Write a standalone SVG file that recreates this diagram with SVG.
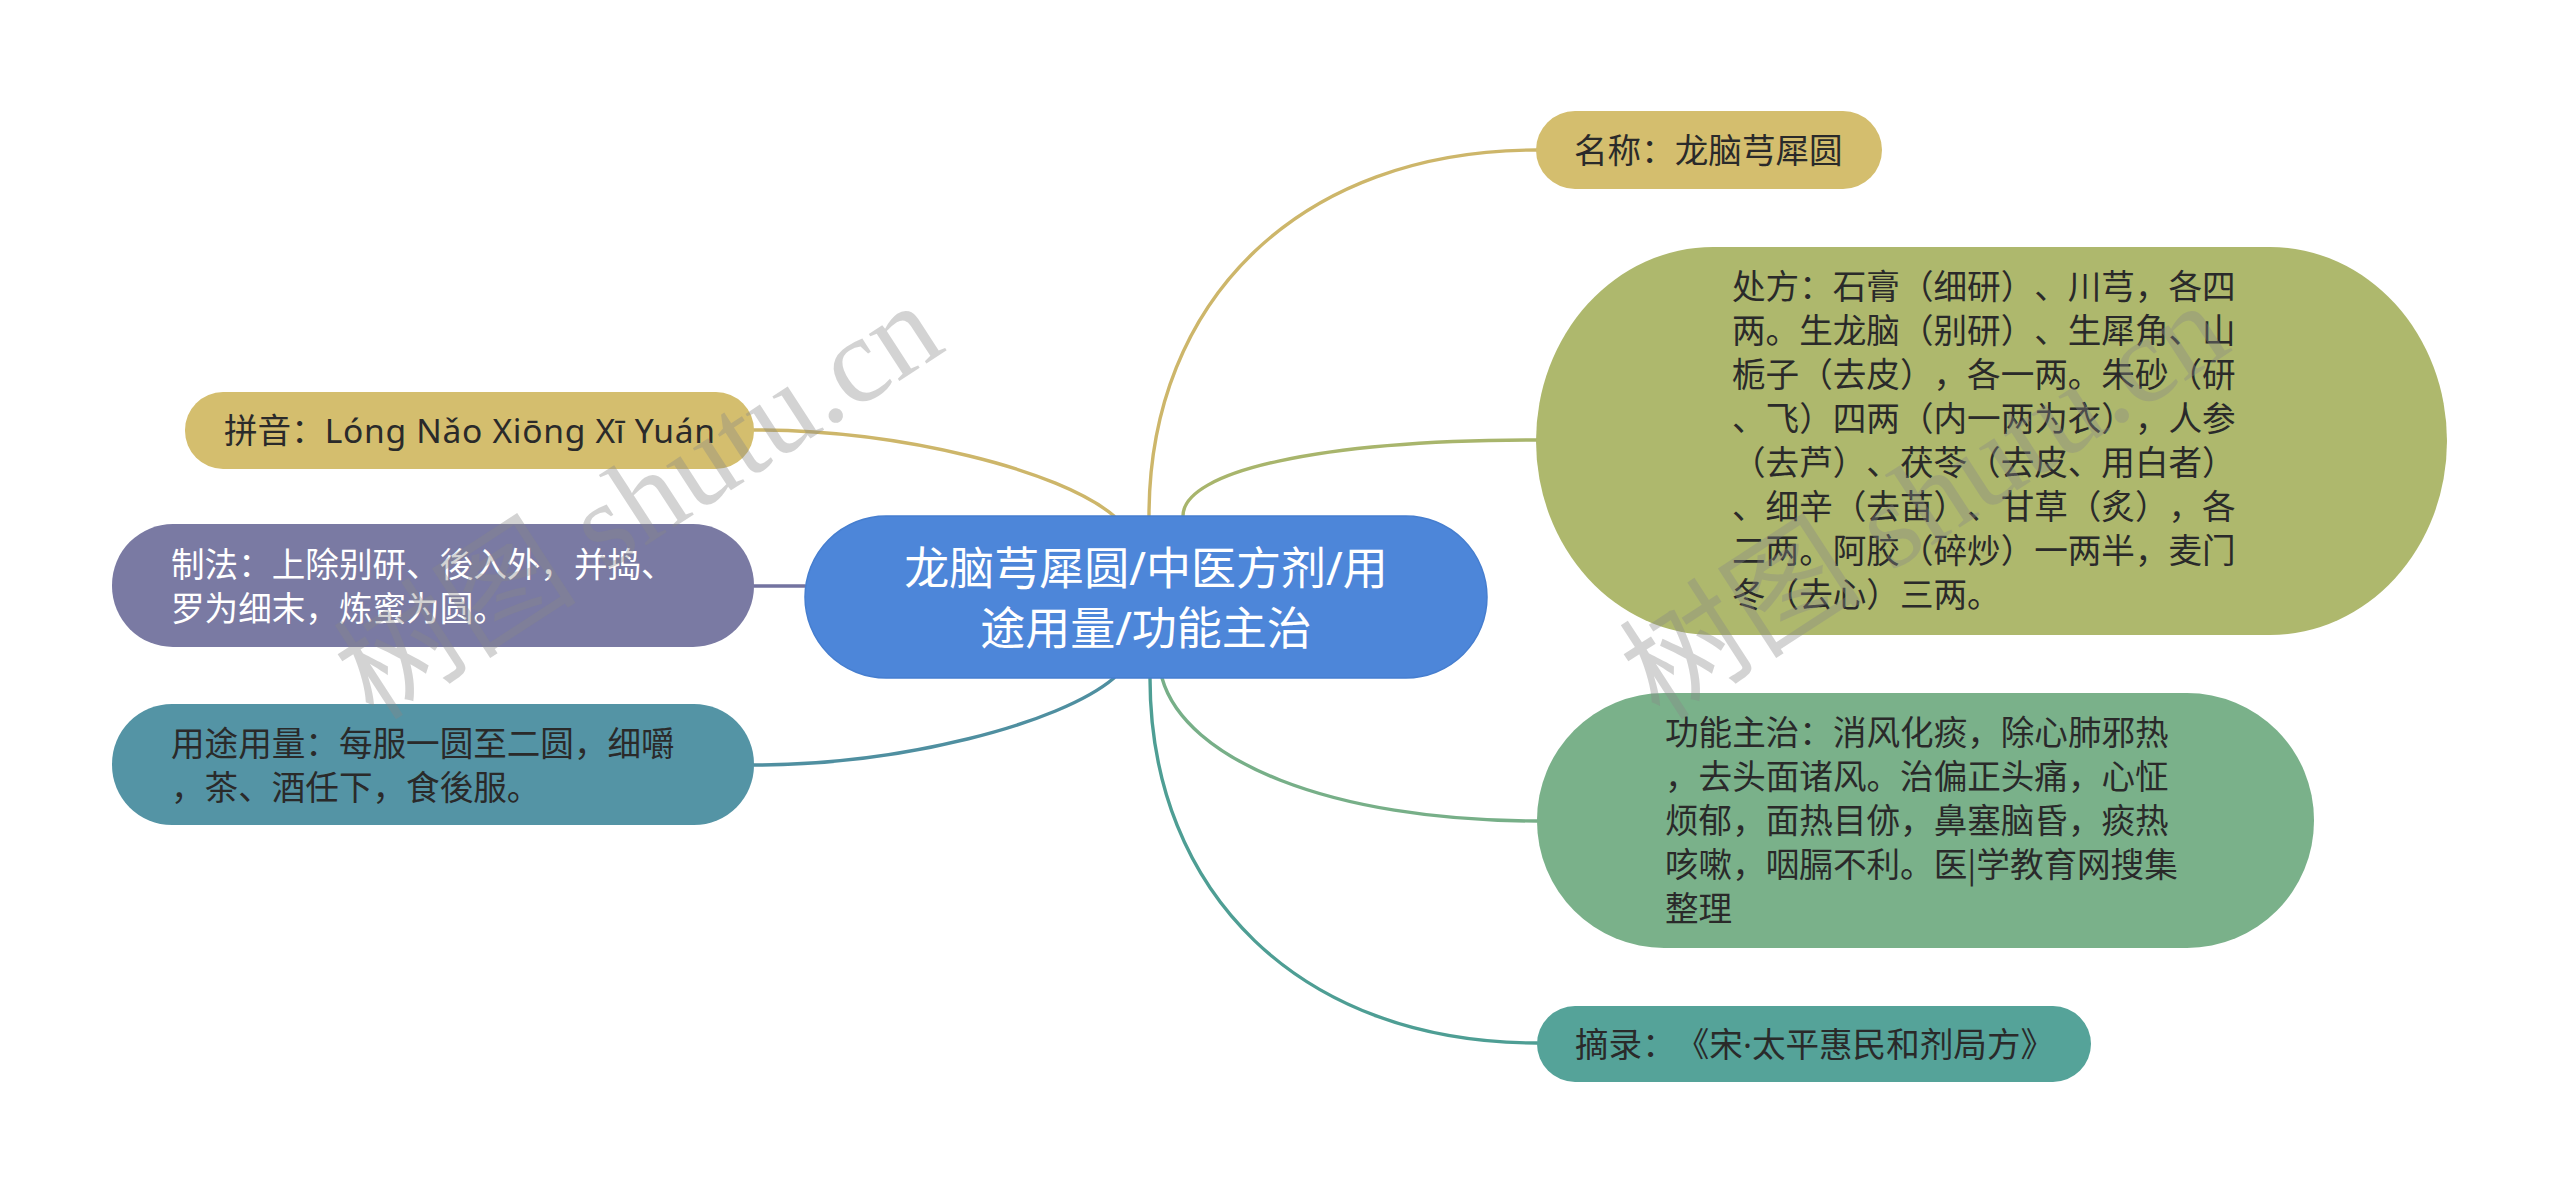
<svg xmlns="http://www.w3.org/2000/svg" width="2560" height="1195" viewBox="0 0 2560 1195">
<style>
text{text-spacing-trim:space-all}
.t{font-family:"Noto Sans","Noto Sans CJK SC",sans-serif;font-size:33.6px;fill:#2a2a2a}
.w{fill:#ffffff}
.c{font-family:"Noto Sans","Noto Sans CJK SC",sans-serif;font-size:45px;fill:#ffffff;text-anchor:middle}
.cj{font-family:"Noto Sans CJK SC",sans-serif}
.ln{fill:none;stroke-width:3.4;stroke-linecap:round}
.wm{font-family:"Liberation Serif","Noto Sans CJK SC",serif;font-size:122px;fill:#888888;opacity:0.36}
</style>
<rect width="2560" height="1195" fill="#ffffff"/>
<g id="connectors">
<path class="ln" stroke="#CDB66A" d="M1149,516 C1149,300 1300,150 1537,150"/>
<path class="ln" stroke="#A8B56C" d="M1183,516 C1183,471 1320,440 1537,440"/>
<path class="ln" stroke="#CDB66A" d="M754,430 C900,430 1060,470 1114,516"/>
<path class="ln" stroke="#7373A0" d="M754,586 L805,586"/>
<path class="ln" stroke="#4F8FA0" d="M754,765 C900,765 1060,724 1114,678"/>
<path class="ln" stroke="#77AF88" d="M1162,678 C1185,760 1330,821 1537,821"/>
<path class="ln" stroke="#4E9E94" d="M1150,678 C1150,893 1301,1043 1537,1043"/>
</g>
<g id="center">
<rect x="805" y="516" width="682" height="162" rx="81" ry="81" fill="#4D86D9" stroke="#467ECF" stroke-width="1.5"/>
<text class="c" x="1146" y="585">龙脑芎犀圆/中医方剂/用</text>
<text class="c" x="1146" y="645">途用量/功能主治</text>
</g>
<g id="node-mingcheng">
<rect x="1536" y="111" width="346" height="78" rx="39" ry="39" fill="#D4BE6E"/>
<text class="t" x="1574" y="163">名称：龙脑芎犀圆</text>
</g>
<g id="node-chufang">
<rect x="1536" y="247" width="911" height="388" rx="177" ry="194" fill="#AEB86D"/>
<text class="t" x="1732" y="299">处方：石膏（细研）、川芎，各四</text>
<text class="t" x="1732" y="343">两。生龙脑（别研）、生犀角、山</text>
<text class="t" x="1732" y="387">栀子（去皮），各一两。朱砂（研</text>
<text class="t" x="1732" y="431">、飞）四两（内一两为衣），人参</text>
<text class="t" x="1732" y="475">（去芦）、茯苓（去皮、用白者）</text>
<text class="t" x="1732" y="519">、细辛（去苗）、甘草（炙），各</text>
<text class="t" x="1732" y="563">二两。阿胶（碎炒）一两半，麦门</text>
<text class="t" x="1732" y="607">冬（去心）三两。</text>
</g>
<g id="node-gongneng">
<rect x="1537" y="693" width="777" height="255" rx="127" ry="127" fill="#7AB18A"/>
<text class="t" x="1665" y="745">功能主治：消风化痰，除心肺邪热</text>
<text class="t" x="1665" y="789">，去头面诸风。治偏正头痛，心怔</text>
<text class="t" x="1665" y="833">烦郁，面热目㑊，鼻塞脑昏，痰热</text>
<text class="t" x="1665" y="877">咳嗽，咽膈不利。医<tspan class="cj">|</tspan>学教育网搜集</text>
<text class="t" x="1665" y="921">整理</text>
</g>
<g id="node-zhailu">
<rect x="1537" y="1006" width="554" height="76" rx="38" ry="38" fill="#55A399"/>
<text class="t" x="1575" y="1057">摘录：《宋·太平惠民和剂局方》</text>
</g>
<g id="node-pinyin">
<rect x="185" y="392" width="569" height="77" rx="38" ry="38" fill="#D4BE6E"/>
<text class="t" x="224" y="443">拼音：<tspan letter-spacing="0.7">Lóng Nǎo Xiōng Xī Yuán</tspan></text>
</g>
<g id="node-zhifa">
<rect x="112" y="524" width="642" height="123" rx="61" ry="61" fill="#7A7AA3"/>
<text class="t w" x="171" y="577">制法：上除别研、後入外，并捣、</text>
<text class="t w" x="171" y="621">罗为细末，炼蜜为圆。</text>
</g>
<g id="node-yongtu">
<rect x="112" y="704" width="642" height="121" rx="60" ry="60" fill="#5494A5"/>
<text class="t" x="171" y="756">用途用量：每服一圆至二圆，细嚼</text>
<text class="t" x="171" y="800">，茶、酒任下，食後服。</text>
</g>
<g id="watermark">
<text class="wm" transform="translate(374,722) rotate(-33)">树图 shutu.cn</text>
<text class="wm" transform="translate(1660,722) rotate(-33)">树图 shutu.cn</text>
</g>
</svg>
